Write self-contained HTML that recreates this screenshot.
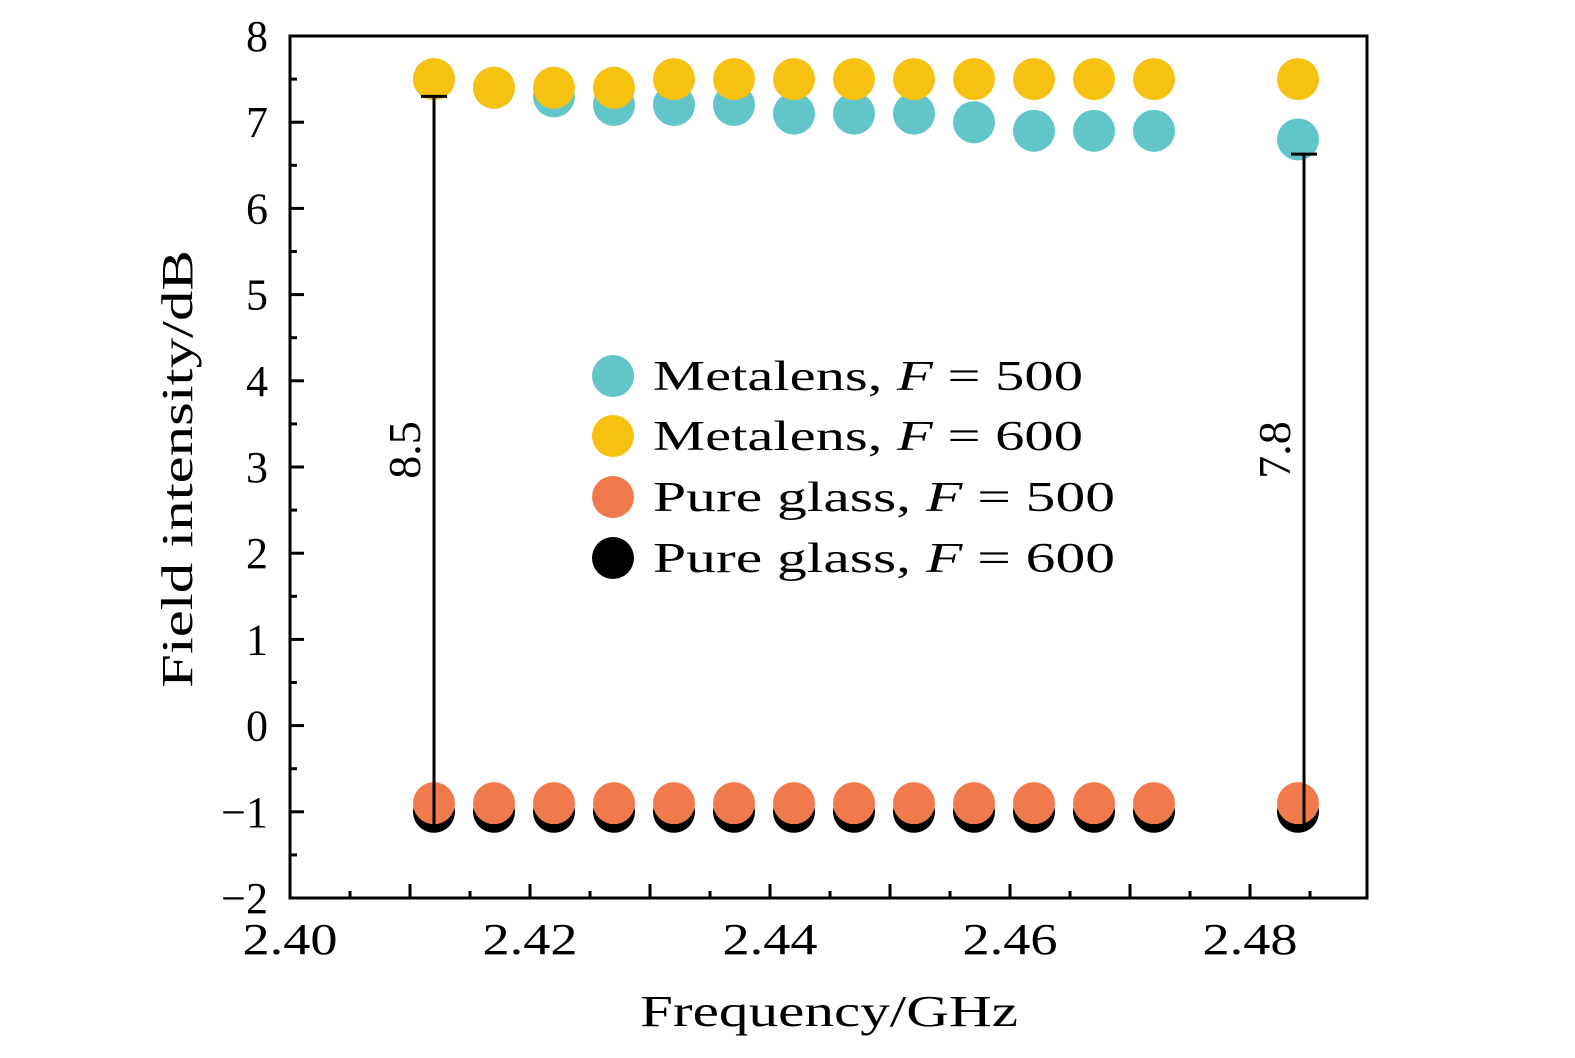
<!DOCTYPE html>
<html><head><meta charset="utf-8"><style>
body{margin:0;background:#fff}
svg text{font-family:"Liberation Serif",serif;fill:#000}
</style></head><body>
<svg width="1575" height="1053" id="c">
<rect x="290" y="36" width="1077" height="862" fill="none" stroke="#000" stroke-width="3"/>
<g id="ticks"></g><g id="dots"></g><g id="ann"></g>
<text x="640" y="1026" font-size="44" textLength="378" lengthAdjust="spacingAndGlyphs">Frequency/GHz</text>
<text transform="translate(192,688) rotate(-90)" font-size="44" textLength="438" lengthAdjust="spacingAndGlyphs">Field intensity/dB</text>
<g font-size="42">
<circle cx="613" cy="376" r="21" fill="#62c6c8"/><text x="653" y="390" textLength="430" lengthAdjust="spacingAndGlyphs">Metalens,  <tspan font-style="italic">F</tspan> = 500</text>
<circle cx="613" cy="436" r="21" fill="#f7c112"/><text x="653" y="450" textLength="430" lengthAdjust="spacingAndGlyphs">Metalens,  <tspan font-style="italic">F</tspan> = 600</text>
<circle cx="613" cy="497" r="21" fill="#f07a4c"/><text x="653" y="511" textLength="462" lengthAdjust="spacingAndGlyphs">Pure glass,  <tspan font-style="italic">F</tspan> = 500</text>
<circle cx="613" cy="558" r="21" fill="#000"/><text x="653" y="572" textLength="462" lengthAdjust="spacingAndGlyphs">Pure glass,  <tspan font-style="italic">F</tspan> = 600</text>
</g>
</svg>
<script>
const freqs=[2.412,2.417,2.422,2.427,2.432,2.437,2.442,2.447,2.452,2.457,2.462,2.467,2.472,2.484];
const metal500=[7.5,7.4,7.3,7.2,7.2,7.2,7.1,7.1,7.1,7.0,6.9,6.9,6.9,6.8];
const metal600=[7.5,7.4,7.4,7.4,7.5,7.5,7.5,7.5,7.5,7.5,7.5,7.5,7.5,7.5];
const glass500=[-0.9,-0.9,-0.9,-0.9,-0.9,-0.9,-0.9,-0.9,-0.9,-0.9,-0.9,-0.9,-0.9,-0.9];
const glass600=[-1,-1,-1,-1,-1,-1,-1,-1,-1,-1,-1,-1,-1,-1];
const xTickLabels=["2.40","2.42","2.44","2.46","2.48"];
const yTickLabels=["8","7","6","5","4","3","2","1","0","−1","−2"];
const annotations=[{x:2.412,y1:7.3,y2:-1.2,label:"8.5"},{x:2.4845,y1:6.63,y2:-1.2,label:"7.8"}];
const NS="http://www.w3.org/2000/svg";
const X=v=>290+(v-2.40)*12000;
const Y=v=>36+(8-v)*86.2;
function mk(t,a,p){const e=document.createElementNS(NS,t);for(const k in a)e.setAttribute(k,a[k]);p.appendChild(e);return e;}
const tk=document.getElementById('ticks');
for(let i=0;i<=17;i++){const v=2.40+i*0.005,x=X(v);const L=i%2==0?14:7;
 const l=mk('line',{x1:x,x2:x,y1:898,y2:898-L,stroke:'#000','stroke-width':3},tk);
 }
xTickLabels.forEach(s=>{const t=mk('text',{x:X(parseFloat(s)),y:954,'font-size':44,'text-anchor':'middle',textLength:95,lengthAdjust:'spacingAndGlyphs'},tk);t.textContent=s;
 });
for(let i=0;i<=20;i++){const v=-2+i*0.5,y=Y(v);const L=i%2==0?14:7;
 const l=mk('line',{x1:290,x2:290+L,y1:y,y2:y,stroke:'#000','stroke-width':3},tk);
 }
yTickLabels.forEach((s,i)=>{const t=mk('text',{x:268,y:Y(8-i)+15,'font-size':44,'text-anchor':'end'},tk);t.textContent=s;
 });
const dg=document.getElementById('dots');
[[glass600,'#000','glass-600-point'],[glass500,'#f07a4c','glass-500-point'],[metal500,'#62c6c8','metalens-500-point'],[metal600,'#f7c112','metalens-600-point']].forEach(([arr,c,n])=>{
 arr.forEach((v,i)=>{const e=mk('circle',{cx:X(freqs[i]),cy:Y(v),r:21,fill:c},dg);
 });});
const ag=document.getElementById('ann');
annotations.forEach(a=>{const x=X(a.x);
 const l=mk('line',{x1:x,x2:x,y1:Y(a.y1),y2:Y(a.y2),stroke:'#000','stroke-width':3},ag);
 
 const c=mk('line',{x1:x-13,x2:x+13,y1:Y(a.y1),y2:Y(a.y1),stroke:'#000','stroke-width':3},ag);
 
 const t=mk('text',{transform:`translate(${x-14},450) rotate(-90)`,'font-size':46,'text-anchor':'middle'},ag);t.textContent=a.label;
 });
</script>
</body></html>
